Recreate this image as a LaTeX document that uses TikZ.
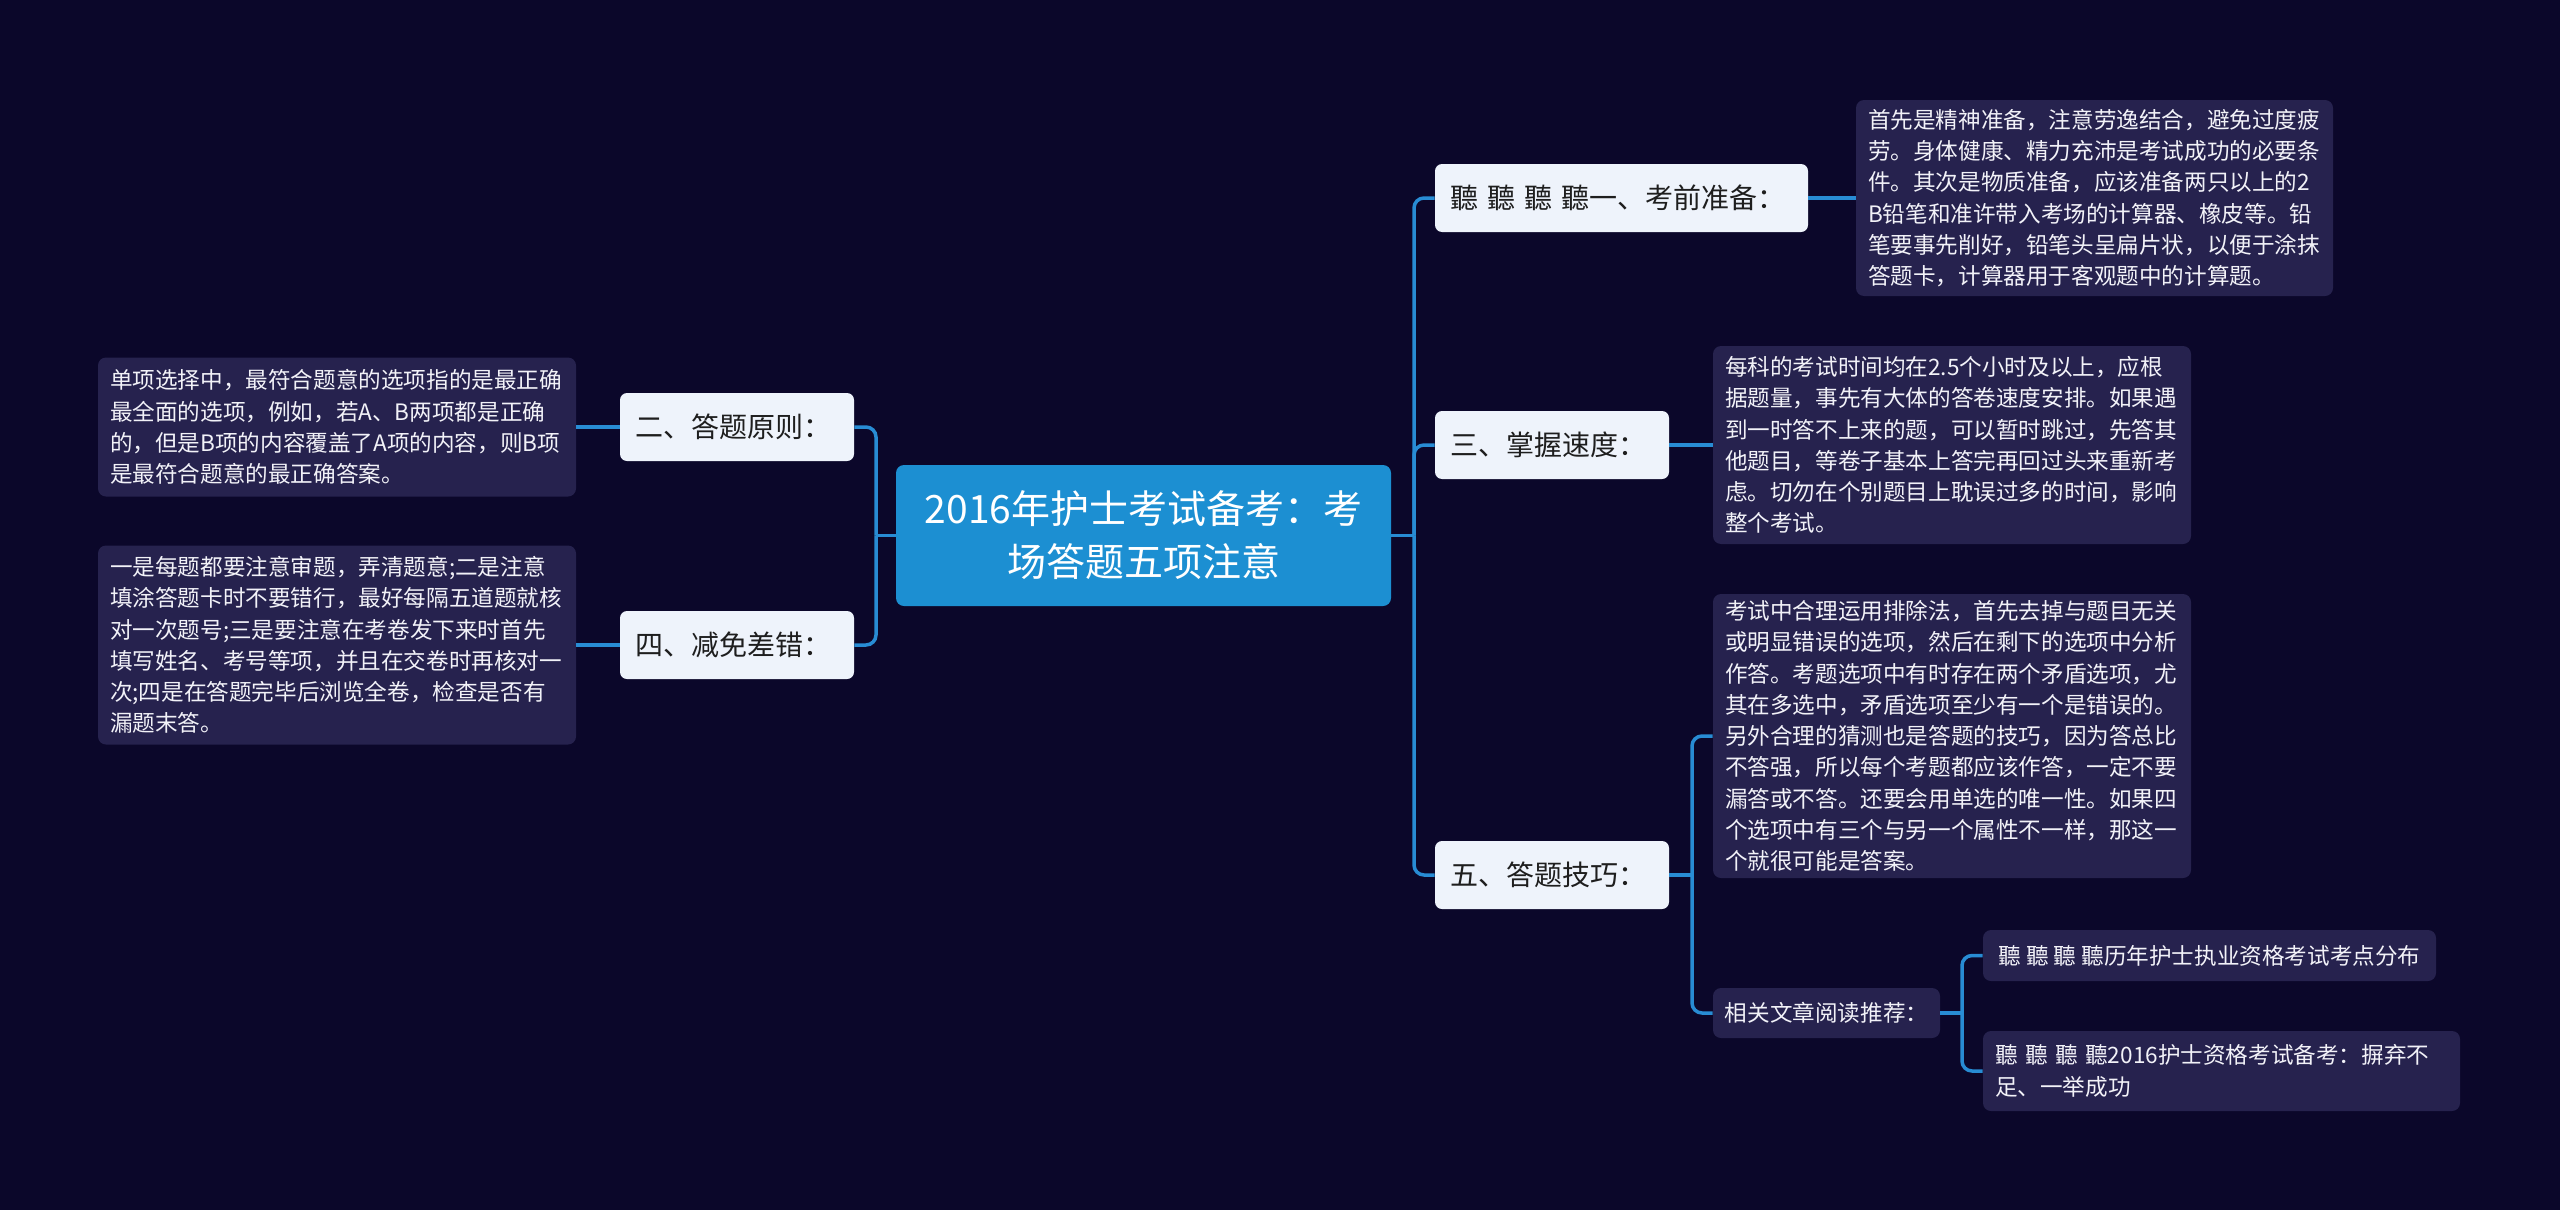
\documentclass[tikz,border=0pt]{standalone}
\usepackage{fontspec}
\setmainfont{Noto Sans CJK SC}
\definecolor{bgc}{RGB}{11,7,42}
\definecolor{leafc}{RGB}{38,34,78}
\definecolor{topicc}{RGB}{238,243,251}
\definecolor{rootc}{RGB}{28,143,210}
\definecolor{linec}{RGB}{40,140,212}
\definecolor{darkt}{RGB}{30,30,30}
\definecolor{leaft}{RGB}{242,242,248}
\begin{document}
\begin{tikzpicture}[x=0.5pt,y=-0.5pt,
  conn/.style={draw=linec, line width=1.75pt, rounded corners=5pt},
  rootbox/.style={fill=rootc, rounded corners=4pt, text=white,
    font=\fontsize{19.5pt}{26.5pt}\selectfont, align=center,
    text width=235.5pt, inner xsep=6pt, inner ysep=0pt, minimum height=70.5pt},
  topic/.style={fill=topicc, rounded corners=3.5pt, text=darkt,
    font=\fontsize{14pt}{18pt}\selectfont, align=left,
    inner xsep=7.5pt, inner ysep=0pt, minimum height=34pt},
  leaf/.style={fill=leafc, rounded corners=4pt, text=leaft,
    font=\fontsize{11.3pt}{15.65pt}\selectfont, align=left,
    inner xsep=6pt, inner ysep=0pt},
]
\fill[bgc] (0,0) rectangle (2560,1210);

% root
\node[rootbox] (root) at (1143.5,535.5) {2016年护士考试备考：考\\场答题五项注意};

% level 1
\node[topic, text width=171.5pt] (t1) at (1621.5,198) {聽 聽 聽 聽一、考前准备：};
\node[topic, text width=102pt] (t3) at (1552,445) {三、掌握速度：};
\node[topic, text width=102pt] (t5) at (1552,875) {五、答题技巧：};
\node[topic, text width=102pt] (t2) at (737,427) {二、答题原则：};
\node[topic, text width=102pt] (t4) at (737,645) {四、减免差错：};

% leaves right
\node[leaf, text width=226.5pt, minimum height=98pt] (l1) at (2094.5,198) {首先是精神准备，注意劳逸结合，避免过度疲\\劳。身体健康、精力充沛是考试成功的必要条\\件。其次是物质准备，应该准备两只以上的2\\B铅笔和准许带入考场的计算器、橡皮等。铅\\笔要事先削好，铅笔头呈扁片状，以便于涂抹\\答题卡，计算器用于客观题中的计算题。};
\node[leaf, text width=227pt, minimum height=99pt] (l3) at (1952,445) {每科的考试时间均在2.5个小时及以上，应根\\据题量，事先有大体的答卷速度安排。如果遇\\到一时答不上来的题，可以暂时跳过，先答其\\他题目，等卷子基本上答完再回过头来重新考\\虑。切勿在个别题目上耽误过多的时间，影响\\整个考试。};
\node[leaf, text width=227pt, minimum height=142pt] (l5) at (1952,736) {考试中合理运用排除法，首先去掉与题目无关\\或明显错误的选项，然后在剩下的选项中分析\\作答。考题选项中有时存在两个矛盾选项，尤\\其在多选中，矛盾选项至少有一个是错误的。\\另外合理的猜测也是答题的技巧，因为答总比\\不答强，所以每个考题都应该作答，一定不要\\漏答或不答。还要会用单选的唯一性。如果四\\个选项中有三个与另一个属性不一样，那这一\\个就很可能是答案。};
\node[leaf, inner xsep=0pt, minimum width=113.5pt, minimum height=25pt] (rel) at (1826.5,1013) {相关文章阅读推荐：};
\node[leaf, inner xsep=0pt, minimum width=226.5pt, minimum height=25.5pt] (r1) at (2209.5,955.5) {聽 聽 聽 聽历年护士执业资格考试考点分布};
\node[leaf, text width=226.5pt, minimum height=40pt] (r2) at (2221.5,1071) {\mbox{聽 聽 聽 聽2016护士资格考试备考：摒弃不}\\足、一举成功};

% leaves left
\node[leaf, text width=227pt, minimum height=69.5pt] (l2) at (337,427) {单项选择中，最符合题意的选项指的是最正确\\最全面的选项，例如，若A、B两项都是正确\\的，但是B项的内容覆盖了A项的内容，则B项\\是最符合题意的最正确答案。};
\node[leaf, text width=227pt, minimum height=99.5pt] (l4) at (337,645) {一是每题都要注意审题，弄清题意;二是注意\\填涂答题卡时不要错行，最好每隔五道题就核\\对一次题号;三是要注意在考卷发下来时首先\\填写姓名、考号等项，并且在交卷时再核对一\\次;四是在答题完毕后浏览全卷，检查是否有\\漏题末答。};

% junctions
\coordinate (jR) at (1414,535.5);
\coordinate (jL) at (876,535.5);
\coordinate (j5) at (1692,875);
\coordinate (jX) at (1962,1013);

% connectors
\draw[conn] (root.east) -- (jR);
\draw[conn] (jR) |- (t1.west);
\draw[conn] (jR) |- (t3.west);
\draw[conn] (jR) |- (t5.west);
\draw[conn] (root.west) -- (jL);
\draw[conn] (jL) |- (t2.east);
\draw[conn] (jL) |- (t4.east);
\draw[conn] (t1.east) -- (l1.west);
\draw[conn] (t3.east) -- (l3.west);
\draw[conn] (t2.west) -- (l2.east);
\draw[conn] (t4.west) -- (l4.east);
\draw[conn] (t5.east) -- (j5);
\draw[conn] (j5) |- (l5.west);
\draw[conn] (j5) |- (rel.west);
\draw[conn] (rel.east) -- (jX);
\draw[conn] (jX) |- (r1.west);
\draw[conn] (jX) |- (r2.west);
\end{tikzpicture}
\end{document}
